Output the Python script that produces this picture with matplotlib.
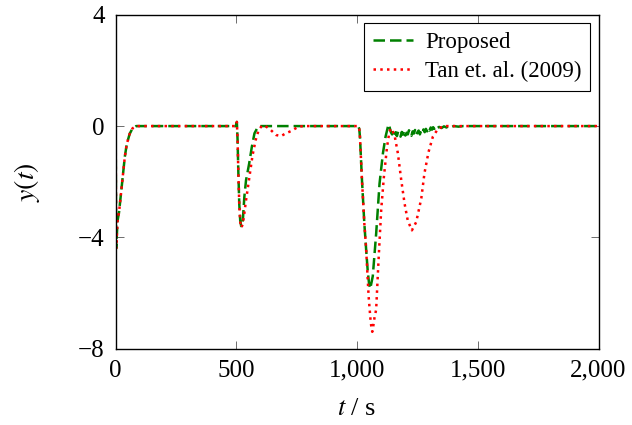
import matplotlib
matplotlib.use("Agg")
import matplotlib.pyplot as plt

plt.rcParams['font.family'] = ['Liberation Serif', 'DejaVu Serif']
plt.rcParams['mathtext.fontset'] = 'stix'

# ---- data ----
t_prop = [0, 2, 8, 14, 20, 26, 32, 38, 46, 58, 70, 85, 100,
          499, 502, 505, 508, 512, 516, 520, 526, 533, 540, 553, 564, 575, 588, 601,
          1005, 1009, 1012, 1020, 1030, 1038, 1044, 1050, 1055, 1058, 1065, 1079, 1093,
          1107, 1118, 1127, 1132,
          1135, 1140, 1145, 1150, 1155, 1160, 1165, 1170, 1175, 1180, 1185, 1190, 1195,
          1200, 1205, 1210, 1215, 1220, 1225, 1230, 1235, 1240, 1245, 1250, 1255, 1260,
          1265, 1270, 1275, 1280, 1285, 1290, 1295, 1300, 1305, 1310, 1315, 1320, 1325,
          1330, 1340, 1350, 1360, 1370, 1380, 1390, 1400, 1420, 1440, 2000]
y_prop = [0, -4.4, -3.4, -3.1, -2.6, -2.1, -1.6, -1.1, -0.65, -0.28, -0.08, 0, 0,
          0, 0.15, -0.5, -1.6, -2.8, -3.4, -3.6, -3.5, -2.55, -1.95, -1.35, -0.75, -0.26, -0.05, 0,
          0, -0.1, -0.4, -1.9, -3.5, -4.5, -5.2, -5.7, -5.85, -5.7, -5.4, -3.87, -2.07,
          -0.98, -0.38, -0.05, 0.06,
          -0.05, -0.22, -0.30, -0.18, -0.33, -0.22, -0.36, -0.20, -0.30, -0.38, -0.21, -0.31, -0.17,
          -0.34, -0.24, -0.30, -0.15, -0.28, -0.35, -0.19, -0.27, -0.14, -0.31, -0.22, -0.16, -0.30,
          -0.18, -0.25, -0.12, -0.22, -0.10, -0.19, -0.08, -0.16, -0.05, -0.13, -0.04, -0.10, -0.02,
          -0.08, -0.03, -0.07, -0.01, -0.05, 0.0, -0.04, 0.0, -0.02, 0, 0]

t_tan = [0, 2, 8, 14, 20, 26, 32, 38, 46, 58, 70, 85, 100,
         499, 502, 505, 508, 512, 516, 520, 526, 532, 539, 557, 567, 580, 592, 606,
         620, 640, 664, 685, 705, 729, 757, 780,
         1005, 1009, 1012, 1020, 1030, 1037, 1048, 1055, 1060, 1063, 1067, 1072, 1079, 1089,
         1100, 1111, 1124, 1134, 1141, 1155, 1169, 1183, 1197, 1210, 1227, 1245, 1266,
         1279, 1296, 1314, 1335, 1360, 2000]
y_tan = [0, -4.4, -3.4, -3.1, -2.6, -2.1, -1.6, -1.1, -0.65, -0.28, -0.08, 0, 0,
         0, 0.15, -0.5, -1.6, -2.8, -3.45, -3.65, -3.55, -3.2, -2.73, -1.65, -1.05, -0.5, -0.15, 0.02,
         0.0, -0.12, -0.32, -0.36, -0.26, -0.17, -0.02, 0,
         0, -0.1, -0.4, -1.9, -3.5, -4.35, -6.15, -6.9, -7.3, -7.4, -7.2, -6.9, -6.6, -4.8,
         -3.0, -1.83, -0.75, -0.2, -0.08, -0.32, -0.98, -1.95, -2.8, -3.4, -3.75, -3.45, -2.6,
         -1.7, -0.93, -0.38, -0.1, 0, 0]

xticks = [0, 500, 1000, 1500, 2000]
xtick_labels = ['0', '500', '1,000', '1,500', '2,000']
yticks = [-8, -4, 0, 4]
ytick_labels = ['\u22128', '\u22124', '0', '4']

# ---- figure ----
fig = plt.figure(figsize=(6.32, 4.25), dpi=100)
ax = fig.add_axes([0.183, 0.180, 0.764, 0.785])

green = '#008000'
red = '#ff0000'
ax.plot(t_prop, y_prop, color=green, lw=1.8, dashes=(4.6, 2.0), label='Proposed')
ax.plot(t_tan, y_tan, color=red, lw=1.8, dashes=(1.0, 1.7), label='Tan et. al. (2009)')

ax.set_xlim(0, 2000)
ax.set_ylim(-8, 4)
ax.set_xticks(xticks)
ax.set_xticklabels(xtick_labels)
ax.set_yticks(yticks)
ax.set_yticklabels(ytick_labels)
ax.tick_params(direction='in', top=True, right=True, length=6, width=0.6,
               color='#555555', labelsize=18, pad=8)
for s in ax.spines.values():
    s.set_linewidth(1.0)
    s.set_color('black')

ax.set_xlabel('$t$ / s', fontsize=19, labelpad=12)
ax.set_ylabel('$y(t)$', fontsize=20, labelpad=26)

leg = ax.legend(loc='upper right', fontsize=16.5, frameon=True, fancybox=False,
                edgecolor='black', framealpha=1.0, handlelength=1.75,
                handletextpad=0.5, borderaxespad=0.35, borderpad=0.4,
                labelspacing=0.35)
leg.get_frame().set_linewidth(0.8)

fig.savefig('out.png', dpi=100)
